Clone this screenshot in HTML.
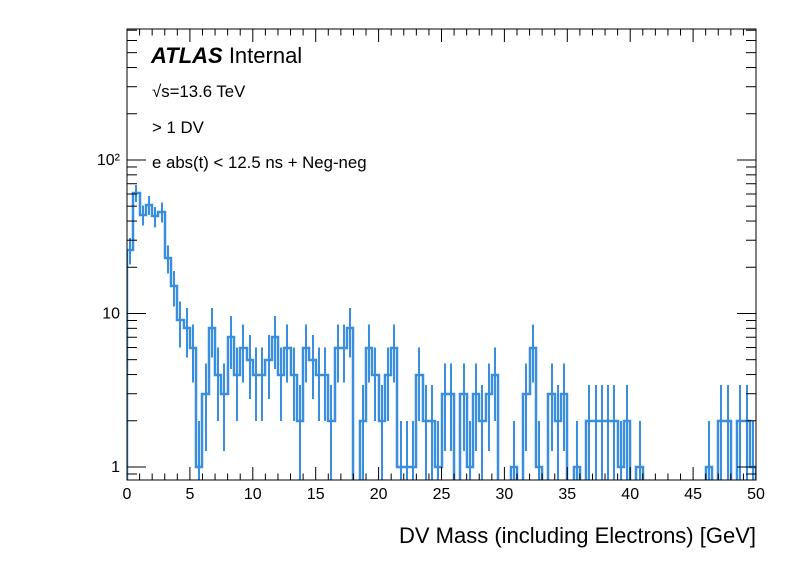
<!DOCTYPE html>
<html><head><meta charset="utf-8"><style>
body{margin:0;background:#fff;}
svg text{font-family:"Liberation Sans",sans-serif;}
</style></head><body>
<svg id="chart" width="796" height="572" xmlns="http://www.w3.org/2000/svg">
<defs><clipPath id="pc"><rect x="127" y="29" width="629" height="451"/></clipPath></defs>
<rect width="796" height="572" fill="#fff"/>
<g id="errs" clip-path="url(#pc)"></g>
<g id="hist" clip-path="url(#pc)"></g>
<g id="axes"></g>
<text x="151" y="63" font-size="22" font-weight="bold" font-style="italic">ATLAS <tspan font-weight="normal" font-style="normal">Internal</tspan></text>
<text x="152" y="97" font-size="16.8">√s=13.6 TeV</text>
<text x="152" y="133" font-size="16.8">&gt; 1 DV</text>
<text x="152" y="168" font-size="16.8">e abs(t) &lt; 12.5 ns + Neg-neg</text>
<text x="756" y="543" font-size="22" text-anchor="end">DV Mass (including Electrons) [GeV]</text>
</svg>
<script>
const counts = [26,61,44,51,43,46,23,15,9,8,6,1,3,8,4,3,7,4,6,5,4,4,5,7,4,6,4,2,6,5,4,4,2,6,6,8,0,2,6,4,2,4,6,1,1,1,4,2,2,1,3,3,0,3,1,3,2,3,4,0,0,1,0,3,6,1,0,3,2,3,0,1,0,2,2,2,2,2,1,2,0,1,0,0,0,0,0,0,0,0,0,0,1,0,2,2,0,2,2,1];
const xTicks = [0,5,10,15,20,25,30,35,40,45,50];
const yTicks = [1,10,100];
const yTickLabels = ["1","10","10²"];
const X0=127,X1=756,Y0=480,Y1=29;
const xMin=0,xMax=50,binW=0.5;
const yMinLog=Math.log10(0.8225),yMaxLog=Math.log10(713);
function sx(v){return X0+(v-xMin)/(xMax-xMin)*(X1-X0);}
function sy(v){if(v<=0)return Y0+3;const l=Math.log10(v);return Y0-(l-yMinLog)/(yMaxLog-yMinLog)*(Y0-Y1);}
function cy(y){return Math.max(Y1,Math.min(Y0,y));}
function r(v){return Math.round(v);}
const NS="http://www.w3.org/2000/svg";
const col="#3a8ee0";
const errs=document.getElementById('errs');
counts.forEach((n,i)=>{
  if(n<=0)return;
  const xc=Math.round(sx((i+0.5)*binW));
  const e=Math.sqrt(n);
  const l=document.createElementNS(NS,'line');
  
  
  l.setAttribute('x1',xc);l.setAttribute('x2',xc);
  l.setAttribute('y1',cy(sy(n+e)));l.setAttribute('y2',cy(sy(n-e)));
  l.setAttribute('stroke',col);l.setAttribute('stroke-width','2');
  l.setAttribute('shape-rendering','crispEdges');
  errs.appendChild(l);
});
let d="M"+r(sx(0))+","+(Y0+3);
counts.forEach((n,i)=>{const y=r(sy(n));d+=" L"+r(sx(i*binW))+","+y+" L"+r(sx((i+1)*binW))+","+y;});
d+=" L"+r(sx(xMax))+","+(Y0+3);
const hist=document.getElementById('hist');
const p1=document.createElementNS(NS,'path');


p1.setAttribute('d',d);p1.setAttribute('fill','none');p1.setAttribute('stroke',col);p1.setAttribute('stroke-width','2.5');
hist.appendChild(p1);
const ax=document.getElementById('axes');
function ln(x1,y1,x2,y2,name){const l=document.createElementNS(NS,'line');


l.setAttribute('x1',x1);l.setAttribute('y1',y1);l.setAttribute('x2',x2);l.setAttribute('y2',y2);l.setAttribute('stroke','#000');l.setAttribute('stroke-width','1');ax.appendChild(l);}
function tx(x,y,s,anchor,name){const t=document.createElementNS(NS,'text');


t.setAttribute('x',x);t.setAttribute('y',y);t.setAttribute('font-size','16');t.setAttribute('text-anchor',anchor);t.textContent=s;ax.appendChild(t);}
const fr=document.createElementNS(NS,'rect');


fr.setAttribute('x',X0);fr.setAttribute('y',Y1);fr.setAttribute('width',X1-X0);fr.setAttribute('height',Y0-Y1);fr.setAttribute('fill','none');fr.setAttribute('stroke','#000');
ax.appendChild(fr);
for(let v=0;v<=50;v+=1){const x=sx(v);const L=(v%5===0)?13:6.5;ln(x,Y0,x,Y0-L,'x-tick');ln(x,Y1,x,Y1+L,'x-tick-top');}
xTicks.forEach(v=>tx(sx(v),499,String(v),'middle','x-tick-label'));
for(let dec=0.1;dec<=100;dec*=10){for(let k=1;k<10;k++){const v=dec*k;const y=sy(v);if(y<Y1||y>Y0)continue;const L=(k===1)?19:10;ln(X0,y,X0+L,y,'y-tick');ln(X1,y,X1-L,y,'y-tick-right');}}
yTicks.forEach((v,i)=>tx(120,sy(v)+5,yTickLabels[i],'end','y-tick-label'));
</script>
</body></html>
